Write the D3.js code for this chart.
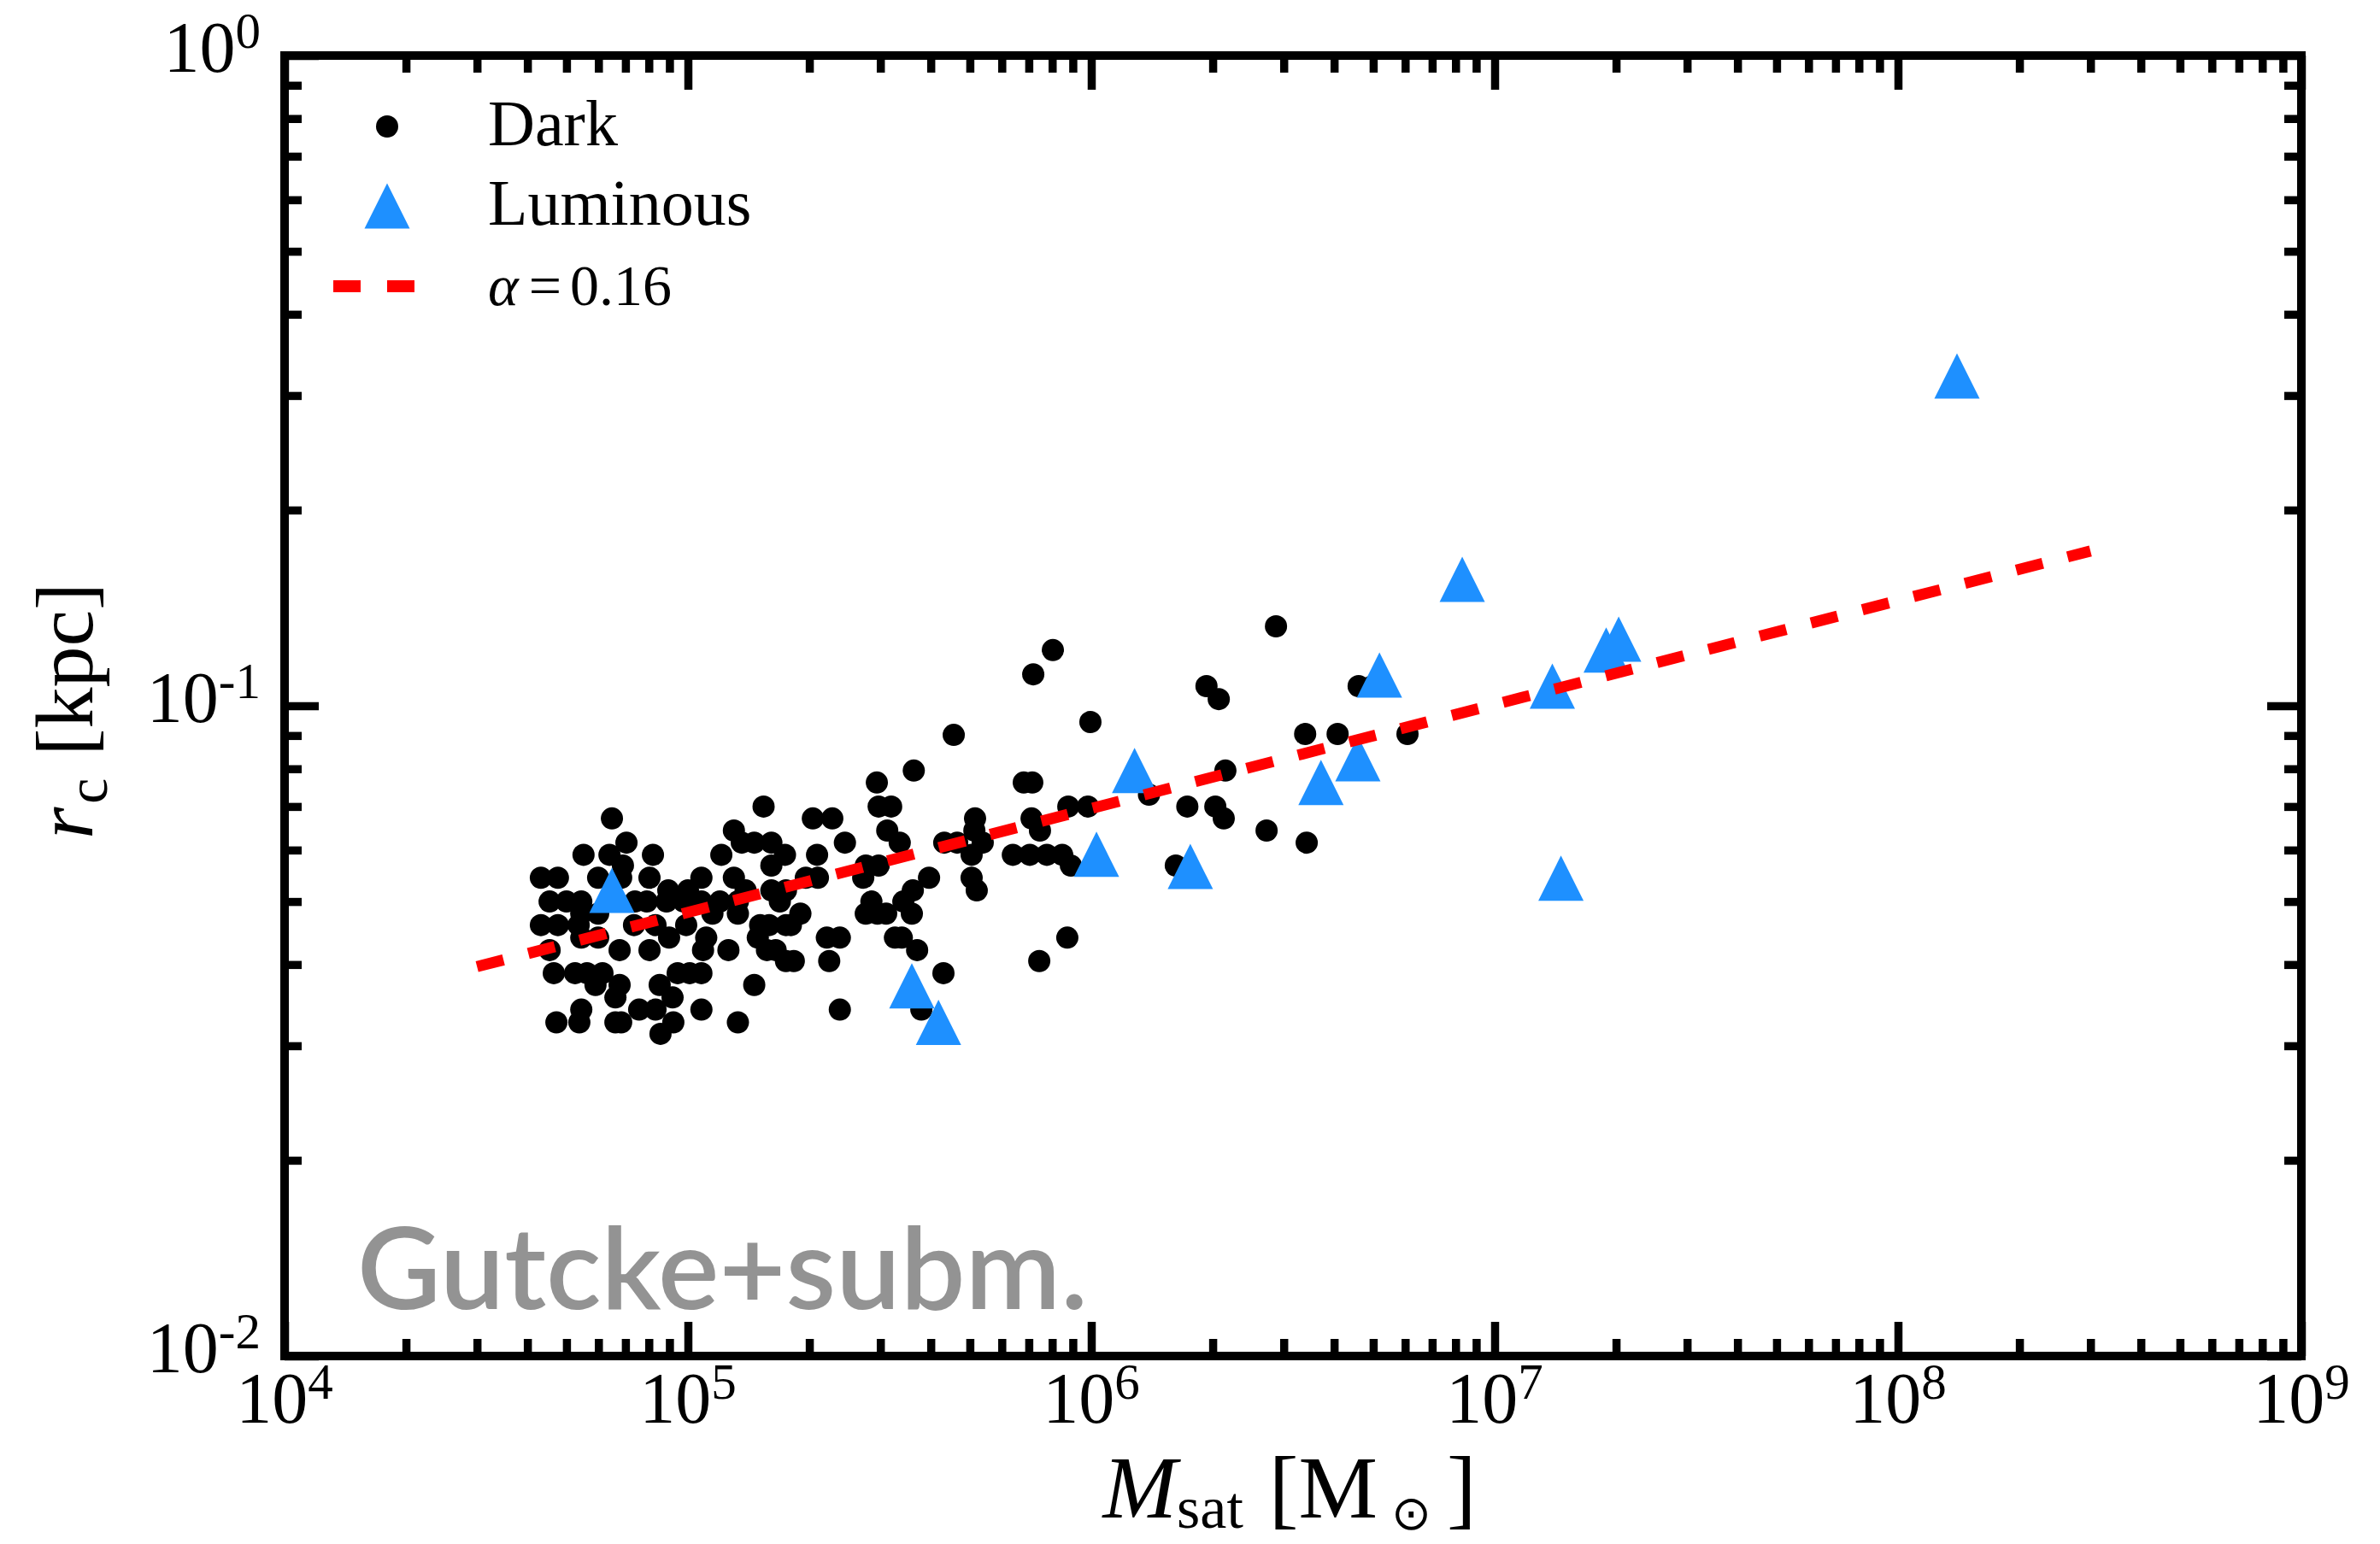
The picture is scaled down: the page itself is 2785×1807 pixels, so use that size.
<!DOCTYPE html>
<html><head><meta charset="utf-8">
<script src="https://cdn.jsdelivr.net/npm/d3@7"></script>
<style>html,body{margin:0;padding:0;background:#fff}</style>
</head><body>
<svg id="chart" width="2785" height="1807"></svg>
<script>
// ---------------- data ----------------
const xTickExponents = [4, 5, 6, 7, 8, 9];
const yTickExponents = [-2, -1, 0];
const legendLabels = ["Dark", "Luminous", "α = 0.16"];
const watermark = "Gutcke+subm.";

// [M_sat (Msun), r_c (kpc)]
const darkPoints = [
  [1.54e5,0.0700],
  [6.48e4,0.0671],
  [1.30e5,0.0643],
  [7.04e4,0.0616],[1.36e5,0.0616],[1.46e5,0.0616],[1.61e5,0.0616],
  [5.51e4,0.0590],[6.39e4,0.0590],[8.19e4,0.0590],[1.21e5,0.0590],
  [6.90e4,0.0568],[1.61e5,0.0568],
  [4.32e4,0.0544],[4.76e4,0.0544],[5.99e4,0.0544],[6.83e4,0.0544],[8.03e4,0.0544],[1.08e5,0.0544],[1.30e5,0.0544],
  [8.94e4,0.0520],[1.00e5,0.0520],[1.39e5,0.0520],[1.61e5,0.0520],
  [4.54e4,0.0500],[5.00e4,0.0500],[5.44e4,0.0500],[7.39e4,0.0500],[7.91e4,0.0500],[8.85e4,0.0500],[9.76e4,0.0500],[1.08e5,0.0500],[1.20e5,0.0500],[1.33e5,0.0500],[1.69e5,0.0500],
  [5.44e4,0.0479],[5.99e4,0.0479],[1.15e5,0.0479],[1.33e5,0.0479],
  [4.32e4,0.0460],[4.76e4,0.0460],[5.36e4,0.0460],[7.35e4,0.0460],[8.31e4,0.0460],[9.90e4,0.0460],[1.51e5,0.0460],[1.59e5,0.0460],[1.75e5,0.0460],
  [5.44e4,0.0440],[5.99e4,0.0440],[8.98e4,0.0440],[1.11e5,0.0440],[1.49e5,0.0440],
  [4.54e4,0.0421],[6.77e4,0.0421],[8.03e4,0.0421],[1.09e5,0.0421],[1.26e5,0.0421],[1.57e5,0.0421],[1.65e5,0.0421],
  [1.75e5,0.0405],
  [4.65e4,0.0388],[5.25e4,0.0388],[5.62e4,0.0388],[6.14e4,0.0388],[9.43e4,0.0388],[1.01e5,0.0388],[1.08e5,0.0388],
  [5.90e4,0.0372],[6.77e4,0.0372],[8.51e4,0.0372],[1.46e5,0.0372],
  [6.61e4,0.0356],[9.16e4,0.0356],
  [5.44e4,0.0341],[7.57e4,0.0341],[8.31e4,0.0341],[1.08e5,0.0341],
  [4.72e4,0.0326],[5.38e4,0.0326],[6.61e4,0.0326],[6.83e4,0.0326],[9.20e4,0.0326],[1.33e5,0.0326],
  [8.55e4,0.0313],
  [8.03e5,0.1218],[7.18e5,0.1118],[9.95e5,0.0944],[4.56e5,0.0902],[3.63e5,0.0795],
  [2.94e5,0.0762],[6.80e5,0.0762],[7.14e5,0.0762],
  [2.97e5,0.0700],[3.19e5,0.0700],[8.77e5,0.0700],[9.81e5,0.0700],
  [2.04e5,0.0671],[2.28e5,0.0671],[5.15e5,0.0671],[7.11e5,0.0671],
  [3.12e5,0.0643],[5.13e5,0.0643],[7.46e5,0.0643],
  [2.45e5,0.0616],[3.35e5,0.0616],[4.32e5,0.0616],[4.65e5,0.0616],[5.38e5,0.0616],
  [1.74e5,0.0590],[2.09e5,0.0590],[5.05e5,0.0590],[6.39e5,0.0590],[7.04e5,0.0590],[7.76e5,0.0590],[8.47e5,0.0590],
  [2.76e5,0.0568],[2.97e5,0.0568],[8.90e5,0.0568],
  [1.96e5,0.0544],[2.10e5,0.0544],[2.72e5,0.0544],[3.96e5,0.0544],[5.05e5,0.0544],
  [1.75e5,0.0520],[3.61e5,0.0520],[5.20e5,0.0520],
  [2.85e5,0.0500],[3.42e5,0.0500],
  [1.90e5,0.0479],[2.76e5,0.0479],[2.95e5,0.0479],[3.10e5,0.0479],[3.59e5,0.0479],
  [1.80e5,0.0460],
  [2.21e5,0.0440],[2.38e5,0.0440],[3.26e5,0.0440],[3.39e5,0.0440],[8.72e5,0.0440],
  [3.70e5,0.0421],
  [1.83e5,0.0405],[2.24e5,0.0405],[7.43e5,0.0405],
  [4.30e5,0.0388],
  [2.38e5,0.0341],[3.79e5,0.0341],
  [2.87e6,0.1325],[1.93e6,0.1072],[2.07e6,0.1024],[4.60e6,0.1072],[4.98e6,0.1072],
  [3.39e6,0.0905],[4.08e6,0.0905],[6.08e6,0.0905],[2.15e6,0.0795],[1.39e6,0.0730],
  [1.73e6,0.0700],[2.03e6,0.0700],[2.13e6,0.0671],[2.72e6,0.0643],[3.42e6,0.0616],[1.62e6,0.0568]
];

const luminousPoints = [
  [6.48e4,0.0520],[3.59e5,0.0371],[4.18e5,0.0326],[1.03e6,0.0591],[1.28e6,0.0795],
  [1.76e6,0.0566],[3.71e6,0.0762],[4.58e6,0.0829],[5.18e6,0.1115],[8.31e6,0.1565],
  [1.39e7,0.1072],[1.46e7,0.0543],[1.89e7,0.1218],[2.03e7,0.1266],[1.40e8,0.3215]
];

// power-law fit, alpha = 0.16 (end points)
const fitLine = [[3e4,0.0397],[3e8,0.173]];

// ---------------- drawing ----------------
const W = 2785, H = 1807;
const X0 = 333, X1 = 2693, Y0 = 1587, Y1 = 65;
const serif = "'Liberation Serif', 'Times New Roman', serif";
const svg = d3.select("#chart");
svg.append("rect").attr("width", W).attr("height", H).attr("fill", "#fff");

const x = d3.scaleLog().domain([1e4, 1e9]).range([X0, X1]);
const y = d3.scaleLog().domain([1e-2, 1]).range([Y0, Y1]);

const majX = xTickExponents.map(e => Math.pow(10, e));
const majY = yTickExponents.map(e => Math.pow(10, e));
const minX = [], minY = [];
xTickExponents.slice(0, -1).forEach(e => { for (let k = 2; k <= 9; k++) minX.push(k * Math.pow(10, e)); });
yTickExponents.slice(0, -1).forEach(e => { for (let k = 2; k <= 9; k++) minY.push(k * Math.pow(10, e)); });

function ticks(axisGen, tx, ty, vals, len) {
  const g = svg.append("g").attr("transform", `translate(${tx},${ty})`)
    .call(axisGen.tickValues(vals).tickSize(-len).tickFormat(""));
  g.select(".domain").remove();
  g.selectAll("line").attr("stroke", "#000").attr("stroke-width", 9.5);
  g.selectAll("text").remove();
}
ticks(d3.axisBottom(x), 0, Y0, majX, 40);
ticks(d3.axisBottom(x), 0, Y0, minX, 20);
ticks(d3.axisTop(x), 0, Y1, majX, 40);
ticks(d3.axisTop(x), 0, Y1, minX, 20);
ticks(d3.axisLeft(y), X0, 0, majY, 40);
ticks(d3.axisLeft(y), X0, 0, minY, 20);
ticks(d3.axisRight(y), X1, 0, majY, 40);
ticks(d3.axisRight(y), X1, 0, minY, 20);

// tick labels
xTickExponents.forEach(e => {
  const t = svg.append("text").attr("x", x(Math.pow(10, e))).attr("y", 1665)
    .attr("text-anchor", "middle").attr("font-family", serif).attr("font-size", 84).attr("fill", "#000");
  t.append("tspan").text("10");
  t.append("tspan").attr("dy", -28).attr("font-size", 59).text(String(e));
});
yTickExponents.forEach(e => {
  const t = svg.append("text").attr("x", 305).attr("y", y(Math.pow(10, e)) + 19)
    .attr("text-anchor", "end").attr("font-family", serif).attr("font-size", 84).attr("fill", "#000");
  t.append("tspan").text("10");
  t.append("tspan").attr("dy", -28).attr("font-size", 59).text(String(e));
});

// axis labels
{
  const t = svg.append("text").attr("x", 1509).attr("y", 1776).attr("text-anchor", "middle")
    .attr("font-family", serif).attr("font-size", 104).attr("fill", "#000");
  t.append("tspan").attr("font-style", "italic").text("M");
  t.append("tspan").attr("font-size", 70).attr("dy", 12).text("sat");
  t.append("tspan").attr("dy", -12).attr("dx", 30).text("[M");
  t.append("tspan").attr("font-size", 56).attr("dy", 14).attr("dx", 16)
    .attr("font-family", "'DejaVu Sans', sans-serif").text("⊙");
  t.append("tspan").attr("dy", -14).attr("dx", 18).text("]");
}
{
  const t = svg.append("text").attr("transform", "translate(108,832) rotate(-90)")
    .attr("text-anchor", "middle").attr("font-family", serif).attr("font-size", 96).attr("fill", "#000");
  t.append("tspan").attr("font-style", "italic").text("r");
  t.append("tspan").attr("font-size", 68).attr("dy", 17).attr("dx", 4).text("c");
  t.append("tspan").attr("dy", -17).attr("dx", 26).text("[kpc]");
}

// watermark
svg.append("text").attr("x", 418).attr("y", 1532)
  .attr("font-family", "Lato, 'Open Sans', sans-serif").attr("font-weight", 600)
  .attr("font-size", 132).attr("fill", "#939393")
  .attr("textLength", 855).attr("lengthAdjust", "spacingAndGlyphs")
  .text(watermark);

// triangle path helper (matplotlib '^' style: bbox-centred)
const triHalf = 26.5;
const triPath = (cx, cy) => `M${cx},${cy - triHalf}L${cx + triHalf},${cy + triHalf}L${cx - triHalf},${cy + triHalf}Z`;

// data
svg.append("g").selectAll("circle").data(darkPoints).join("circle")
  .attr("cx", d => x(d[0])).attr("cy", d => y(d[1])).attr("r", 13).attr("fill", "#000");
svg.append("g").selectAll("path").data(luminousPoints).join("path")
  .attr("d", d => triPath(x(d[0]), y(d[1]))).attr("fill", "#1E90FF");
svg.append("path").datum(fitLine)
  .attr("d", d3.line().x(d => x(d[0])).y(d => y(d[1])))
  .attr("fill", "none").attr("stroke", "#FF0000").attr("stroke-width", 13)
  .attr("stroke-dasharray", "32,30");

// legend
svg.append("circle").attr("cx", 453).attr("cy", 148).attr("r", 13).attr("fill", "#000");
svg.append("path").attr("d", triPath(453, 241)).attr("fill", "#1E90FF");
svg.append("line").attr("x1", 390).attr("x2", 516).attr("y1", 335).attr("y2", 335)
  .attr("stroke", "#FF0000").attr("stroke-width", 14).attr("stroke-dasharray", "32,31");
svg.append("text").attr("x", 571).attr("y", 170).attr("font-family", serif).attr("font-size", 76)
  .attr("fill", "#000").text(legendLabels[0]);
svg.append("text").attr("x", 571).attr("y", 263).attr("font-family", serif).attr("font-size", 76)
  .attr("fill", "#000").text(legendLabels[1]);
{
  const parts = legendLabels[2].split(" ");
  const t = svg.append("text").attr("x", 571).attr("y", 357).attr("font-family", serif)
    .attr("font-size", 68).attr("fill", "#000");
  t.append("tspan").attr("font-style", "italic").text(parts[0]);
  t.append("tspan").attr("dx", 12).text(parts[1]);
  t.append("tspan").attr("dx", 10).text(parts[2]);
}

// frame
svg.append("rect").attr("x", X0).attr("y", Y1).attr("width", X1 - X0).attr("height", Y0 - Y1)
  .attr("fill", "none").attr("stroke", "#000").attr("stroke-width", 10);
</script>
</body></html>
